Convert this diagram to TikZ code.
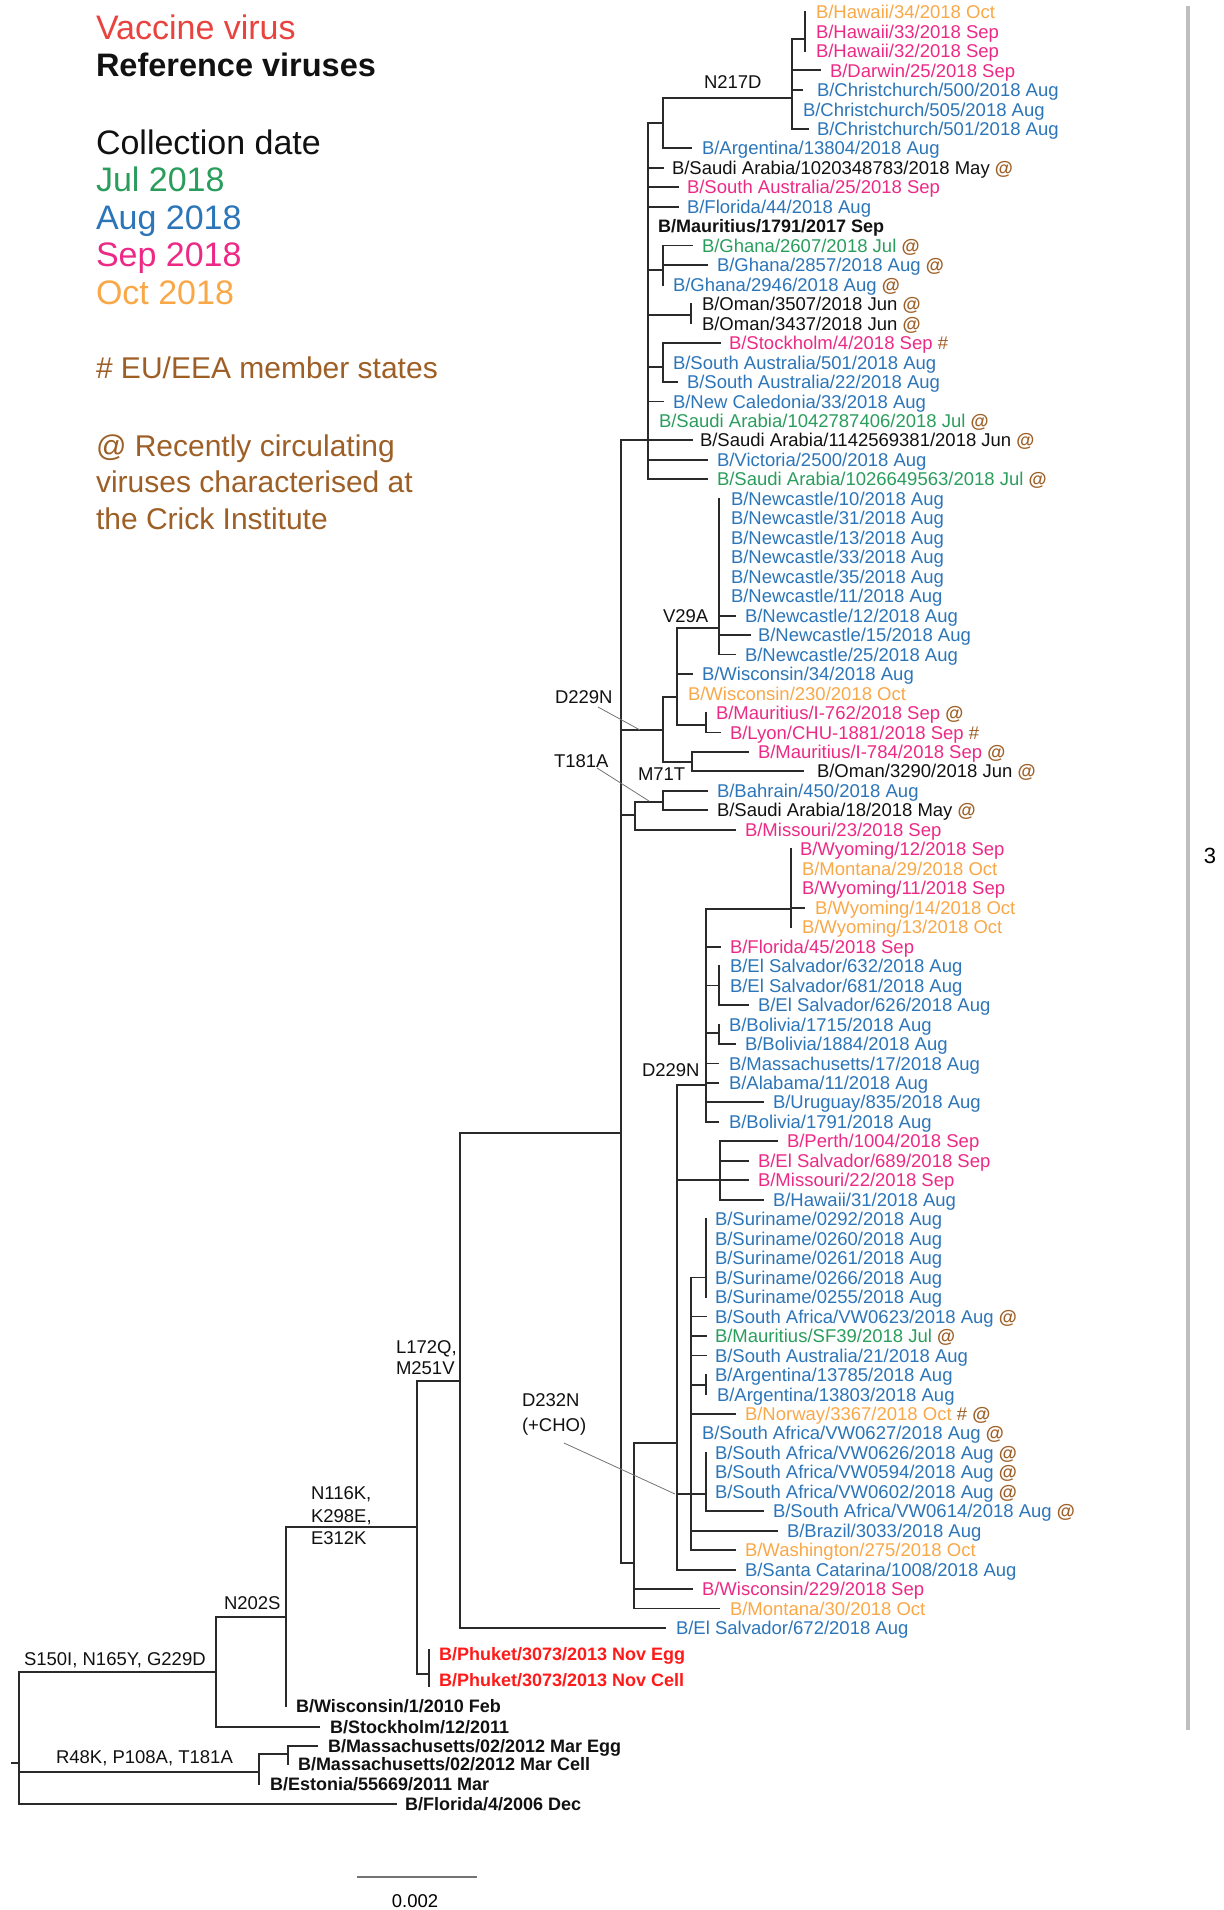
\documentclass[tikz,border=0pt]{standalone}
\usepackage{fontspec}
\setmainfont{Liberation Sans}
\definecolor{cA}{HTML}{2B75B8}
\definecolor{cS}{HTML}{EC2A86}
\definecolor{cO}{HTML}{F9A848}
\definecolor{cJ}{HTML}{2A9D5C}
\definecolor{cK}{HTML}{111111}
\definecolor{cR}{HTML}{FF1A1A}
\definecolor{cVac}{HTML}{E8433F}
\definecolor{cBr}{HTML}{9E5F26}
\definecolor{cLn}{HTML}{2A2A2A}
\newcounter{lfc}
\newcommand\lfont{\fontsize{18.5}{20}\selectfont}
\newcommand\B[1]{{\fontsize{18}{20}\selectfont\bfseries #1}}
\newcommand\AT{\ {\color{cBr}\textbf{@}}}
\newcommand\HS{\ {\color{cBr}\#}}
\tikzset{
 br/.style={draw=cLn, line width=1.8pt, line cap=rect},
 lfs/.style={anchor=west, inner sep=0pt, outer sep=0pt, font=\lfont, text height=13.3pt, text depth=0pt},
 mut/.style={anchor=west, inner sep=0pt, outer sep=0pt, font=\lfont, text=cK, text height=13.3pt, text depth=0pt},
 ptr/.style={draw=black!55, line width=0.8pt},
 leg/.style={anchor=west, inner sep=0pt, outer sep=0pt, font=\fontsize{34}{40}\selectfont, text height=24.3pt, text depth=0pt},
 legb/.style={anchor=west, inner sep=0pt, outer sep=0pt, font=\fontsize{30}{36}\selectfont, text height=21.5pt, text depth=0pt, text=cBr},
}
\newcommand\lf[6]{\draw[br] (#1,#3) -- (#2,#3);\stepcounter{lfc}\node[lfs,text=#5] (lf\arabic{lfc}) at (#4,#3) {#6};}
\newcommand\lz[4]{\stepcounter{lfc}\node[lfs,text=#3] (lf\arabic{lfc}) at (#1,#2) {#4};}
\newcommand\vl[3]{\draw[br] (#1,#2) -- (#1,#3);}
\newcommand\hl[3]{\draw[br] (#1,#3) -- (#2,#3);}
\begin{document}
\begin{tikzpicture}[x=1pt,y=-1pt]
\useasboundingbox (0,0) rectangle (1223,1910);
% legend
\node[leg,text=cVac] (lgA) at (96,27) {Vaccine virus};
\node[leg,text=cK,font=\fontsize{32.5}{38}\selectfont\bfseries,text height=23.3pt] (lgB) at (96,65) {Reference viruses};
\node[leg,text=cK] (lgC) at (96,142) {Collection date};
\node[leg,text=cJ] (lgD) at (96,179) {Jul 2018};
\node[leg,text=cA] (lgE) at (96,217) {Aug 2018};
\node[leg,text=cS] (lgF) at (96,254) {Sep 2018};
\node[leg,text=cO] (lgG) at (96,292) {Oct 2018};
\node[legb] (lgH) at (96,368) {\# EU/EEA member states};
\node[legb] (lgI) at (96,446) {@ Recently circulating};
\node[legb] (lgJ) at (96,482) {viruses characterised at};
\node[legb] (lgK) at (96,519) {the Crick Institute};
% right bar
\draw[line width=4pt, draw=black!25] (1188,6) -- (1188,1730);
\node[font=\fontsize{22}{24}\selectfont, inner sep=0pt] (three) at (1210,856) {3};
% N217D clade
\vl{805}{12}{50.9}
\hl{792}{805}{39}
\lz{816}{12}{cO}{B/Hawaii/34/2018 Oct}
\lz{816}{31.5}{cS}{B/Hawaii/33/2018 Sep}
\lz{816}{50.9}{cS}{B/Hawaii/32/2018 Sep}
\vl{792}{39}{128.8}
\lf{792}{820}{70.4}{830}{cS}{B/Darwin/25/2018 Sep}
\lf{792}{802}{89.9}{817}{cA}{B/Christchurch/500/2018 Aug}
\lz{803}{109.4}{cA}{B/Christchurch/505/2018 Aug}
\lf{792}{808}{128.8}{817}{cA}{B/Christchurch/501/2018 Aug}
\hl{663}{792}{98}
\node[mut] (mA) at (704,82) {N217D};
\vl{663}{98}{148.3}
\lf{663}{691}{148.3}{702}{cA}{B/Argentina/13804/2018 Aug}
\hl{648}{663}{123}
\vl{648}{123}{479.3}
\lf{648}{663}{167.8}{672}{cK}{B/Saudi Arabia/1020348783/2018 May\AT}
\lf{648}{678}{187.2}{687}{cS}{B/South Australia/25/2018 Sep}
\lf{648}{678}{206.7}{687}{cA}{B/Florida/44/2018 Aug}
\lz{658}{226.2}{cK}{\B{B/Mauritius/1791/2017 Sep}}
\hl{648}{663}{270}
\vl{663}{245.6}{284.6}
\lf{663}{692}{245.6}{702}{cJ}{B/Ghana/2607/2018 Jul\AT}
\lf{663}{707}{265.1}{717}{cA}{B/Ghana/2857/2018 Aug\AT}
\lz{673}{284.6}{cA}{B/Ghana/2946/2018 Aug\AT}
\hl{648}{691}{315}
\vl{691}{304.1}{323.5}
\lz{702}{304.1}{cK}{B/Oman/3507/2018 Jun\AT}
\lz{702}{323.5}{cK}{B/Oman/3437/2018 Jun\AT}
\hl{648}{663}{367}
\vl{663}{343}{381.9}
\lf{663}{720}{343}{729}{cS}{B/Stockholm/4/2018 Sep\HS}
\lz{673}{362.5}{cA}{B/South Australia/501/2018 Aug}
\lf{663}{677}{381.9}{687}{cA}{B/South Australia/22/2018 Aug}
\lf{648}{663}{401.4}{673}{cA}{B/New Caledonia/33/2018 Aug}
\lz{659}{420.9}{cJ}{B/Saudi Arabia/1042787406/2018 Jul\AT}
\lf{648}{692}{440.3}{700}{cK}{B/Saudi Arabia/1142569381/2018 Jun\AT}
\lf{648}{707}{459.8}{717}{cA}{B/Victoria/2500/2018 Aug}
\lf{648}{707}{479.3}{717}{cJ}{B/Saudi Arabia/1026649563/2018 Jul\AT}
\hl{621}{648}{440.3}
\vl{621}{440.3}{1563}
% D229N upper clade
\hl{621}{663}{730}
\vl{663}{697}{762}
\hl{663}{677}{697}
\vl{677}{628}{725}
\hl{677}{719}{628}
\node[mut] (mB) at (663,616) {V29A};
\vl{719}{498.8}{654.5}
\lz{731}{498.8}{cA}{B/Newcastle/10/2018 Aug}
\lz{731}{518.2}{cA}{B/Newcastle/31/2018 Aug}
\lz{731}{537.7}{cA}{B/Newcastle/13/2018 Aug}
\lz{731}{557.2}{cA}{B/Newcastle/33/2018 Aug}
\lz{731}{576.6}{cA}{B/Newcastle/35/2018 Aug}
\lz{731}{596.1}{cA}{B/Newcastle/11/2018 Aug}
\lf{719}{735}{615.6}{745}{cA}{B/Newcastle/12/2018 Aug}
\lf{719}{750}{635}{758}{cA}{B/Newcastle/15/2018 Aug}
\lf{719}{735}{654.5}{745}{cA}{B/Newcastle/25/2018 Aug}
\lf{677}{692}{674}{702}{cA}{B/Wisconsin/34/2018 Aug}
\lz{688}{693.4}{cO}{B/Wisconsin/230/2018 Oct}
\hl{677}{706}{725}
\vl{706}{712.9}{732.4}
\lz{716}{712.9}{cS}{B/Mauritius/I-762/2018 Sep\AT}
\lf{706}{720}{732.4}{730}{cS}{B/Lyon/CHU-1881/2018 Sep\HS}
\hl{663}{692}{762}
\vl{692}{751.9}{771.3}
\lf{692}{748}{751.9}{758}{cS}{B/Mauritius/I-784/2018 Sep\AT}
\lf{692}{803}{771.3}{817}{cK}{B/Oman/3290/2018 Jun\AT}
\node[mut] (mC) at (555,697) {D229N};
\coordinate (pC) at (640,730);
\draw[ptr] (598,707) -- (pC);
\node[mut] (mD) at (638,774) {M71T};
% T181A clade
\hl{621}{635}{815}
\vl{635}{802}{829.7}
\hl{635}{663}{802}
\vl{663}{790.8}{810.3}
\lf{663}{707}{790.8}{717}{cA}{B/Bahrain/450/2018 Aug}
\lf{663}{707}{810.3}{717}{cK}{B/Saudi Arabia/18/2018 May\AT}
\lf{635}{735}{829.7}{745}{cS}{B/Missouri/23/2018 Sep}
\node[mut] (mE) at (554,761) {T181A};
\coordinate (pE) at (649,801);
\draw[ptr] (597,768) -- (pE);
% F and G
\hl{621}{634}{1563}
\vl{634}{1443}{1608.5}
\hl{634}{677}{1443}
\lf{634}{692}{1589}{702}{cS}{B/Wisconsin/229/2018 Sep}
\lf{634}{719}{1608.5}{730}{cO}{B/Montana/30/2018 Oct}
\vl{677}{1085}{1569.6}
% D229N lower
\hl{677}{706}{1085}
\node[mut] (mF) at (642,1070) {D229N};
\vl{706}{909}{1121.8}
\hl{706}{791}{909}
\vl{791}{849.2}{927.1}
\lz{800}{849.2}{cS}{B/Wyoming/12/2018 Sep}
\lz{802}{868.7}{cO}{B/Montana/29/2018 Oct}
\lz{802}{888.1}{cS}{B/Wyoming/11/2018 Sep}
\lf{791}{804}{907.6}{815}{cO}{B/Wyoming/14/2018 Oct}
\lz{802}{927.1}{cO}{B/Wyoming/13/2018 Oct}
\lf{706}{720}{946.6}{730}{cS}{B/Florida/45/2018 Sep}
\hl{706}{719}{985.5}
\vl{719}{966}{1005}
\lz{730}{966}{cA}{B/El Salvador/632/2018 Aug}
\lz{730}{985.5}{cA}{B/El Salvador/681/2018 Aug}
\lf{719}{748}{1005}{758}{cA}{B/El Salvador/626/2018 Aug}
\hl{706}{719}{1033}
\vl{719}{1024.4}{1043.9}
\lz{729}{1024.4}{cA}{B/Bolivia/1715/2018 Aug}
\lf{719}{735}{1043.9}{745}{cA}{B/Bolivia/1884/2018 Aug}
\lf{706}{718}{1063.4}{729}{cA}{B/Massachusetts/17/2018 Aug}
\lf{706}{718}{1082.8}{729}{cA}{B/Alabama/11/2018 Aug}
\lf{706}{763}{1102.3}{773}{cA}{B/Uruguay/835/2018 Aug}
\lf{706}{718}{1121.8}{729}{cA}{B/Bolivia/1791/2018 Aug}
% Perth clade
\hl{677}{720}{1180.2}
\vl{720}{1141.2}{1199.7}
\lf{720}{777}{1141.2}{787}{cS}{B/Perth/1004/2018 Sep}
\lf{720}{748}{1160.7}{758}{cS}{B/El Salvador/689/2018 Sep}
\lf{720}{748}{1180.2}{758}{cS}{B/Missouri/22/2018 Sep}
\lf{720}{763}{1199.7}{773}{cA}{B/Hawaii/31/2018 Aug}
% H clade (D232N)
\hl{677}{706}{1494}
\vl{691}{1277.5}{1550.1}
\hl{691}{706}{1277.5}
\vl{706}{1219.1}{1297}
\lz{715}{1219.1}{cA}{B/Suriname/0292/2018 Aug}
\lz{715}{1238.6}{cA}{B/Suriname/0260/2018 Aug}
\lz{715}{1258.1}{cA}{B/Suriname/0261/2018 Aug}
\lz{715}{1277.5}{cA}{B/Suriname/0266/2018 Aug}
\lz{715}{1297}{cA}{B/Suriname/0255/2018 Aug}
\lf{691}{706}{1316.5}{715}{cA}{B/South Africa/VW0623/2018 Aug\AT}
\lf{691}{706}{1335.9}{715}{cJ}{B/Mauritius/SF39/2018 Jul\AT}
\lf{691}{706}{1355.4}{715}{cA}{B/South Australia/21/2018 Aug}
\hl{691}{706}{1385}
\vl{706}{1374.9}{1394.4}
\lz{715}{1374.9}{cA}{B/Argentina/13785/2018 Aug}
\lz{717}{1394.4}{cA}{B/Argentina/13803/2018 Aug}
\lf{691}{735}{1413.8}{745}{cO}{B/Norway/3367/2018 Oct\HS\AT}
\lz{702}{1433.3}{cA}{B/South Africa/VW0627/2018 Aug\AT}
\vl{706}{1452.8}{1511.2}
\lz{715}{1452.8}{cA}{B/South Africa/VW0626/2018 Aug\AT}
\lz{715}{1472.2}{cA}{B/South Africa/VW0594/2018 Aug\AT}
\lz{715}{1491.7}{cA}{B/South Africa/VW0602/2018 Aug\AT}
\lf{706}{763}{1511.2}{773}{cA}{B/South Africa/VW0614/2018 Aug\AT}
\lf{691}{777}{1530.6}{787}{cA}{B/Brazil/3033/2018 Aug}
\lf{691}{735}{1550.1}{745}{cO}{B/Washington/275/2018 Oct}
\lf{677}{735}{1569.6}{745}{cA}{B/Santa Catarina/1008/2018 Aug}
\node[mut] (mG1) at (522,1400) {D232N};
\node[mut] (mG2) at (522,1425) {(+CHO)};
\coordinate (pG) at (675,1494);
\draw[ptr] (564,1443) -- (pG);
% A
\hl{460}{621}{1133}
\vl{460}{1133}{1628}
\lf{460}{665}{1628}{676}{cA}{B/El Salvador/672/2018 Aug}
% B
\hl{417}{460}{1381}
\node[mut] (mH1) at (396,1347) {L172Q,};
\node[mut] (mH2) at (396,1368) {M251V};
\vl{417}{1381}{1674}
\hl{417}{429}{1674}
\vl{429}{1650}{1686}
\lz{439}{1654}{cR}{\B{B/Phuket/3073/2013 Nov Egg}}
\lz{439}{1680}{cR}{\B{B/Phuket/3073/2013 Nov Cell}}
% C
\hl{286}{417}{1527}
\node[mut] (mI1) at (311,1493) {N116K,};
\node[mut] (mI2) at (311,1516) {K298E,};
\node[mut] (mI3) at (311,1538) {E312K};
\vl{286}{1527}{1706}
\lz{296}{1706}{cK}{\B{B/Wisconsin/1/2010 Feb}}
% D
\hl{216}{286}{1617}
\node[mut] (mJ) at (224,1603) {N202S};
\vl{216}{1617}{1727}
\lf{216}{319}{1727}{330}{cK}{\B{B/Stockholm/12/2011}}
% root
\hl{19}{216}{1672}
\node[mut] (mK) at (24,1659) {S150I, N165Y, G229D};
\vl{19}{1672}{1804}
\hl{12}{19}{1763}
\hl{19}{259}{1772}
\node[mut] (mL) at (56,1757) {R48K, P108A, T181A};
\vl{259}{1754}{1784}
\hl{259}{288}{1754}
\vl{288}{1746}{1764}
\lf{288}{317}{1746}{328}{cK}{\B{B/Massachusetts/02/2012 Mar Egg}}
\lz{298}{1764}{cK}{\B{B/Massachusetts/02/2012 Mar Cell}}
\lz{270}{1784}{cK}{\B{B/Estonia/55669/2011 Mar}}
\lf{19}{396}{1804}{405}{cK}{\B{B/Florida/4/2006 Dec}}
% scale bar
\coordinate (sb1) at (357,1877);
\coordinate (sb2) at (477,1877);
\draw[line width=2.5pt, draw=black!55] (sb1) -- (sb2);
\node[font=\lfont, inner sep=0pt] (sbl) at (415,1901) {0.002};
\end{tikzpicture}
\end{document}
